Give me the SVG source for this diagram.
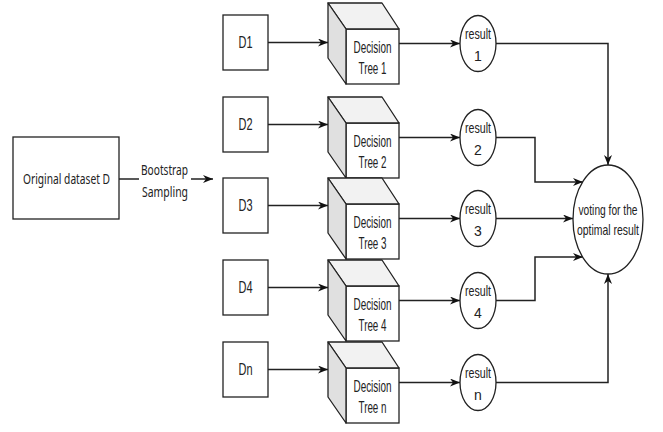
<svg xmlns="http://www.w3.org/2000/svg" width="663" height="432" viewBox="0 0 663 432">
<defs>
<style>
.box{fill:#fff;stroke:#222;stroke-width:1.3}
.top{fill:#f2f2f2;stroke:#222;stroke-width:1.3;stroke-linejoin:round}
.side{fill:#e0e0e0;stroke:#222;stroke-width:1.3;stroke-linejoin:round}
.ln{fill:none;stroke:#222;stroke-width:1.5}
.t{font-family:"Liberation Sans",Arial,sans-serif;font-size:16px;fill:#222;text-anchor:middle}
.v{font-family:"Liberation Sans",Arial,sans-serif;font-size:14.5px;fill:#222;text-anchor:middle}
.r{font-family:"Liberation Sans",Arial,sans-serif;font-size:14px;fill:#222;text-anchor:middle}
.s{font-family:"Noto Sans","Open Sans",sans-serif;font-size:14.5px;fill:#222;text-anchor:middle}
</style>
<marker id="arr" markerWidth="10" markerHeight="8" refX="10" refY="4" orient="auto" markerUnits="userSpaceOnUse">
<path d="M0,0 L10,4 L0,8 L3,4 Z" fill="#111"/>
</marker>
</defs>
<g id="connectors">
<path class="ln" d="M119,179 H213" marker-end="url(#arr)"/>
<rect x="139" y="159" width="52" height="42" fill="#fff"/>
<text class="s" x="164.5" y="175" textLength="47" lengthAdjust="spacingAndGlyphs">Bootstrap</text>
<text class="s" x="165" y="196.5" textLength="46" lengthAdjust="spacingAndGlyphs">Sampling</text>
<path class="ln" d="M268,42.5 H328" marker-end="url(#arr)"/>
<path class="ln" d="M268,124.5 H328" marker-end="url(#arr)"/>
<path class="ln" d="M268,205.5 H328" marker-end="url(#arr)"/>
<path class="ln" d="M268,287.5 H328" marker-end="url(#arr)"/>
<path class="ln" d="M268,369.5 H328" marker-end="url(#arr)"/>
<path class="ln" d="M399,43.5 H460" marker-end="url(#arr)"/>
<path class="ln" d="M399,137.5 H460" marker-end="url(#arr)"/>
<path class="ln" d="M399,218.5 H460" marker-end="url(#arr)"/>
<path class="ln" d="M399,300.5 H460" marker-end="url(#arr)"/>
<path class="ln" d="M399,382.5 H460" marker-end="url(#arr)"/>
<path class="ln" d="M496,43.5 H608 V165" marker-end="url(#arr)"/>
<path class="ln" d="M496,137.5 H535 V182 H583" marker-end="url(#arr)"/>
<path class="ln" d="M496,218.5 H573" marker-end="url(#arr)"/>
<path class="ln" d="M496,300.5 H535 V257 H583" marker-end="url(#arr)"/>
<path class="ln" d="M496,382.5 H608 V274" marker-end="url(#arr)"/>
</g>
<g id="original">
<rect class="box" x="13" y="137" width="106" height="82"/>
<text class="s" x="66.5" y="184" textLength="87" lengthAdjust="spacingAndGlyphs">Original dataset D</text>
</g>
<g id="d1"><rect class="box" x="223" y="15" width="45" height="55"/><text class="t" x="245.5" y="48" textLength="14" lengthAdjust="spacingAndGlyphs">D1</text></g>
<g id="d2"><rect class="box" x="223" y="97" width="45" height="55"/><text class="t" x="245.5" y="130" textLength="14" lengthAdjust="spacingAndGlyphs">D2</text></g>
<g id="d3"><rect class="box" x="223" y="178" width="45" height="55"/><text class="t" x="245.5" y="211" textLength="14" lengthAdjust="spacingAndGlyphs">D3</text></g>
<g id="d4"><rect class="box" x="223" y="260" width="45" height="55"/><text class="t" x="245.5" y="293" textLength="14" lengthAdjust="spacingAndGlyphs">D4</text></g>
<g id="dn"><rect class="box" x="223" y="342" width="45" height="55"/><text class="t" x="245.5" y="375" textLength="14" lengthAdjust="spacingAndGlyphs">Dn</text></g>
<g id="tree1" transform="translate(0,3)">
<rect class="box" x="346" y="26" width="53" height="55"/>
<polygon class="top" points="328,0 382,0 399,26 346,26"/>
<polygon class="side" points="328,0 346,26 346,81 328,55"/>
<text class="t" x="372.5" y="49.5" textLength="38" lengthAdjust="spacingAndGlyphs">Decision</text>
<text class="t" x="372.5" y="70.5" textLength="28" lengthAdjust="spacingAndGlyphs">Tree 1</text>
</g>
<g id="tree2" transform="translate(0,97)">
<rect class="box" x="346" y="26" width="53" height="55"/>
<polygon class="top" points="328,0 382,0 399,26 346,26"/>
<polygon class="side" points="328,0 346,26 346,81 328,55"/>
<text class="t" x="372.5" y="49.5" textLength="38" lengthAdjust="spacingAndGlyphs">Decision</text>
<text class="t" x="372.5" y="70.5" textLength="28" lengthAdjust="spacingAndGlyphs">Tree 2</text>
</g>
<g id="tree3" transform="translate(0,178)">
<rect class="box" x="346" y="26" width="53" height="55"/>
<polygon class="top" points="328,0 382,0 399,26 346,26"/>
<polygon class="side" points="328,0 346,26 346,81 328,55"/>
<text class="t" x="372.5" y="49.5" textLength="38" lengthAdjust="spacingAndGlyphs">Decision</text>
<text class="t" x="372.5" y="70.5" textLength="28" lengthAdjust="spacingAndGlyphs">Tree 3</text>
</g>
<g id="tree4" transform="translate(0,260)">
<rect class="box" x="346" y="26" width="53" height="55"/>
<polygon class="top" points="328,0 382,0 399,26 346,26"/>
<polygon class="side" points="328,0 346,26 346,81 328,55"/>
<text class="t" x="372.5" y="49.5" textLength="38" lengthAdjust="spacingAndGlyphs">Decision</text>
<text class="t" x="372.5" y="70.5" textLength="28" lengthAdjust="spacingAndGlyphs">Tree 4</text>
</g>
<g id="treen" transform="translate(0,342)">
<rect class="box" x="346" y="26" width="53" height="55"/>
<polygon class="top" points="328,0 382,0 399,26 346,26"/>
<polygon class="side" points="328,0 346,26 346,81 328,55"/>
<text class="t" x="372.5" y="49.5" textLength="38" lengthAdjust="spacingAndGlyphs">Decision</text>
<text class="t" x="372.5" y="70.5" textLength="28" lengthAdjust="spacingAndGlyphs">Tree n</text>
</g>
<g id="result1"><ellipse class="box" cx="478" cy="43.5" rx="18" ry="28"/><text class="r" x="478" y="38.5" textLength="26" lengthAdjust="spacingAndGlyphs">result</text><text class="r" x="478" y="60.5">1</text></g>
<g id="result2"><ellipse class="box" cx="478" cy="137.5" rx="18" ry="28"/><text class="r" x="478" y="132.5" textLength="26" lengthAdjust="spacingAndGlyphs">result</text><text class="r" x="478" y="154.5">2</text></g>
<g id="result3"><ellipse class="box" cx="478" cy="218.5" rx="18" ry="28"/><text class="r" x="478" y="213.5" textLength="26" lengthAdjust="spacingAndGlyphs">result</text><text class="r" x="478" y="235.5">3</text></g>
<g id="result4"><ellipse class="box" cx="478" cy="300.5" rx="18" ry="28"/><text class="r" x="478" y="295.5" textLength="26" lengthAdjust="spacingAndGlyphs">result</text><text class="r" x="478" y="317.5">4</text></g>
<g id="resultn"><ellipse class="box" cx="478" cy="382.5" rx="18" ry="28"/><text class="r" x="478" y="377.5" textLength="26" lengthAdjust="spacingAndGlyphs">result</text><text class="r" x="478" y="399.5">n</text></g>
<g id="voting">
<ellipse class="box" cx="608" cy="219.5" rx="35" ry="54.5"/>
<text class="v" x="608" y="215" textLength="59" lengthAdjust="spacingAndGlyphs">voting for the</text>
<text class="v" x="608" y="234.5" textLength="62" lengthAdjust="spacingAndGlyphs">optimal result</text>
</g>
</svg>
